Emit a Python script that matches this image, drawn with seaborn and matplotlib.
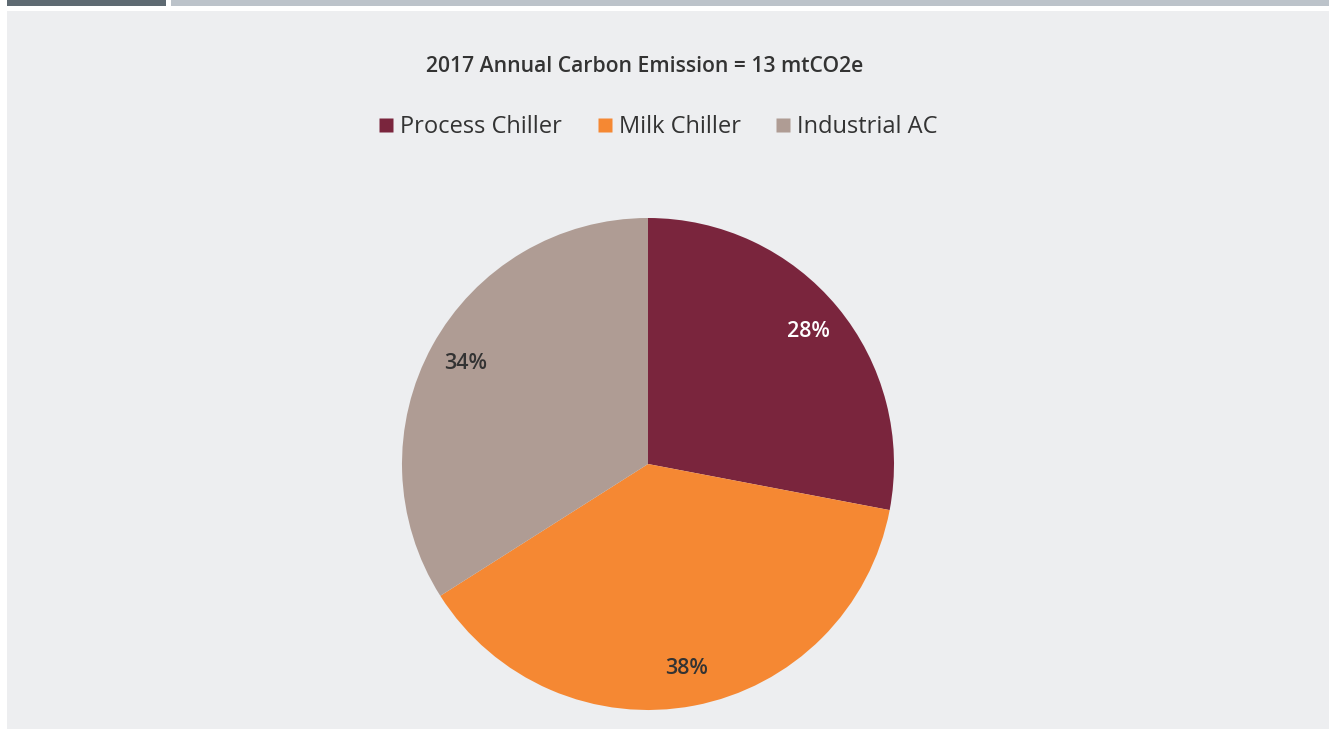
import matplotlib
matplotlib.use("Agg")
import matplotlib.pyplot as plt
from matplotlib.patches import Rectangle
from matplotlib.lines import Line2D
import seaborn as sns

# Emission shares by equipment type (percent)
categories = ["Process Chiller", "Milk Chiller", "Industrial AC"]
shares = [28, 38, 34]
colors = ["#7A253D", "#F58833", "#AF9C94"]
label_colors = ["white", "#333333", "#333333"]
title = "2017 Annual Carbon Emission = 13 mtCO2e"

sns.set_theme(style="white")
plt.rcParams["font.family"] = ["Open Sans", "DejaVu Sans"]

W, H = 1329, 730
fig = plt.figure(figsize=(W / 100, H / 100), dpi=100, facecolor="white")

def px_rect(x0, y0, x1, y1, color):
    # rectangle given in pixel coords measured from the top-left corner
    fig.patches.append(Rectangle((x0 / W, 1 - y1 / H), (x1 - x0) / W, (y1 - y0) / H,
                                 transform=fig.transFigure, facecolor=color,
                                 edgecolor="none", zorder=-5))

# header strips and card background
px_rect(7, 0, 166, 6, "#5E6A72")
px_rect(171, 0, W, 6, "#BCC3CA")
px_rect(7, 11, W, 729, "#EDEEF0")

fig.text(645 / W, 1 - 66 / H, title, ha="center", va="center",
         fontsize=15.2, fontweight="semibold", color="#333333")

# pie axes: centre (648, 464) px, radius 246 px
cx, cy, r = 648, 464, 246
ax = fig.add_axes([(cx - r) / W, 1 - (cy + r) / H, 2 * r / W, 2 * r / H])
ax.set_facecolor("none")
wedges, texts, autotexts = ax.pie(
    shares, colors=colors, startangle=90, counterclock=False,
    autopct=lambda p: f"{p:.0f}%", pctdistance=0.845,
    wedgeprops=dict(linewidth=0),
    textprops=dict(fontsize=15.5, fontweight="semibold"),
)
for t, c in zip(autotexts, label_colors):
    t.set_color(c)
ax.set_xlim(-1, 1)
ax.set_ylim(-1, 1)
ax.set_aspect("equal")
ax.axis("off")

handles = [Line2D([], [], marker="s", linestyle="none", markersize=10,
                  markerfacecolor=c, markeredgecolor="none") for c in colors]
fig.legend(handles, categories, loc="center", bbox_to_anchor=(656 / W, 1 - 127 / H),
           ncol=3, frameon=False, fontsize=17, handletextpad=0.1,
           columnspacing=1.3, handlelength=1.0, labelcolor="#333333")

fig.savefig("out.png", dpi=100, facecolor="white")
